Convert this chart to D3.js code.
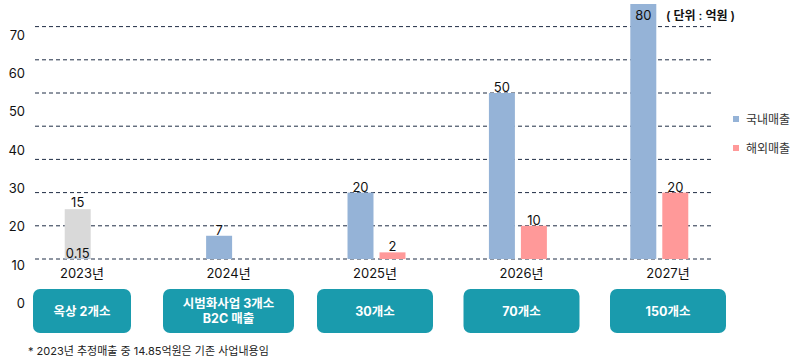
<!DOCTYPE html>
<html>
<head>
<meta charset="utf-8">
<script src="https://cdn.jsdelivr.net/npm/d3@7"></script>
<style>
  body { margin: 0; background: #fff; }
  text { font-family: "Inter", "Noto Sans CJK KR", sans-serif; }
</style>
</head>
<body>
<script>
// ---- data ----
var years = ["2023년", "2024년", "2025년", "2026년", "2027년"];
var seriesNames = ["국내매출", "해외매출"];
var domestic = [0.15, 7, 20, 50, 80];
var overseas = [null, null, 2, 10, 20];
var existing = [15, null, null, null, null]; // 기존 사업 (grey)
var yTicks = [0, 10, 20, 30, 40, 50, 60, 70];
var boxLabels = [["옥상 2개소"], ["시범화사업 3개소", "B2C 매출"], ["30개소"], ["70개소"], ["150개소"]];
var unitLabel = "( 단위 : 억원 )";
var footnote = "* 2023년 추정매출 중 14.85억원은 기존 사업내용임";

var colors = { "국내매출": "#95b3d7", "해외매출": "#ff9999", existing: "#d9d9d9" };
var boxWidths = [98, 131, 116, 116, 116];

var width = 804, height = 363;
var svg = d3.select("body").append("svg").attr("width", width).attr("height", height);

// scales
var y = d3.scaleLinear().domain([0, 70]).range([259, 26.6]);
var yLabel = d3.scaleLinear().domain([0, 70]).range([303, 34.5]);
var x0 = d3.scaleBand().domain(years).range([23, 730]).paddingInner(0.59).paddingOuter(0.295);
var x1 = d3.scaleBand().domain(seriesNames).range([0, x0.bandwidth()]).paddingInner(0.1875);
var xl = d3.scalePoint().domain(years).range([82, 668]);
var chartTop = 4;
function barTop(v) { return Math.max(y(v), chartTop); }

// grid lines
svg.append("g").selectAll("line").data(yTicks).enter().append("line")
    .attr("x1", 35).attr("x2", 713)
    .attr("y1", function (d) { return y(d); })
    .attr("y2", function (d) { return y(d); })
    .attr("stroke", "#1f2d45")
    .attr("stroke-width", 1)
    .attr("stroke-dasharray", "4,3");

// y labels (offset from grid, as in the original)
svg.append("g").selectAll("text").data(yTicks).enter().append("text")
    .attr("x", 25)
    .attr("y", function (d) { return yLabel(d); })
    .attr("text-anchor", "end")
    .attr("dominant-baseline", "central")
    .attr("font-size", 13)
    .attr("fill", "#111")
    .text(function (d) { return d; });

// bars
var rows = years.map(function (yr, i) {
    return { year: yr, existing: existing[i], values: [
        { key: seriesNames[0], v: domestic[i] },
        { key: seriesNames[1], v: overseas[i] }
    ] };
});

var groups = svg.append("g").selectAll("g").data(rows).enter().append("g")
    .attr("transform", function (d) { return "translate(" + x0(d.year) + ",0)"; });

// grey existing bar behind domestic
groups.filter(function (d) { return d.existing != null; }).append("rect")
    .attr("x", x1(seriesNames[0]))
    .attr("width", x1.bandwidth())
    .attr("y", function (d) { return barTop(d.existing); })
    .attr("height", function (d) { return y(0) - barTop(d.existing); })
    .attr("fill", colors.existing);

groups.filter(function (d) { return d.existing != null; }).append("text")
    .attr("x", x1(seriesNames[0]) + x1.bandwidth() / 2)
    .attr("y", function (d) { return barTop(d.existing) - 2; })
    .attr("text-anchor", "middle")
    .attr("font-size", 13)
    .attr("fill", "#111")
    .text(function (d) { return d.existing; });

var bars = groups.selectAll("g.bar")
    .data(function (d) { return d.values.filter(function (s) { return s.v != null; }); })
    .enter().append("g").attr("class", "bar");

bars.append("rect")
    .attr("x", function (d) { return x1(d.key); })
    .attr("width", x1.bandwidth())
    .attr("y", function (d) { return barTop(d.v); })
    .attr("height", function (d) { return y(0) - barTop(d.v); })
    .attr("fill", function (d) { return colors[d.key]; });

bars.append("text")
    .attr("x", function (d) { return x1(d.key) + x1.bandwidth() / 2; })
    .attr("y", function (d) { return Math.max(barTop(d.v) - 1, 20); })
    .attr("text-anchor", "middle")
    .attr("font-size", 13)
    .attr("fill", "#111")
    .text(function (d) { return d.v; });

// year labels
svg.append("g").selectAll("text").data(years).enter().append("text")
    .attr("x", function (d) { return xl(d); })
    .attr("y", 273)
    .attr("text-anchor", "middle")
    .attr("dominant-baseline", "central")
    .attr("font-size", 13)
    .attr("fill", "#111")
    .text(function (d) { return d; });

// boxes under the axis
var boxes = svg.append("g").selectAll("g").data(years).enter().append("g")
    .attr("transform", function (d) { return "translate(" + xl(d) + ",0)"; });

boxes.append("rect")
    .attr("x", function (d, i) { return -boxWidths[i] / 2; })
    .attr("y", 289)
    .attr("width", function (d, i) { return boxWidths[i]; })
    .attr("height", 44)
    .attr("rx", 7)
    .attr("fill", "#1a9bad");

boxes.append("text")
    .attr("text-anchor", "middle")
    .attr("font-size", 12.5)
    .attr("font-weight", "bold")
    .attr("fill", "#fff")
    .selectAll("tspan")
    .data(function (d, i) {
        var lines = boxLabels[i];
        return lines.map(function (t, k) { return { t: t, k: k, n: lines.length }; });
    })
    .enter().append("tspan")
    .attr("x", 0)
    .attr("y", function (d) { return 311 + (d.k - (d.n - 1) / 2) * 15; })
    .attr("dominant-baseline", "central")
    .text(function (d) { return d.t; });

// unit label
svg.append("text")
    .attr("x", 666).attr("y", 15)
    .attr("dominant-baseline", "central")
    .attr("font-size", 12)
    .attr("font-weight", 600)
    .attr("fill", "#111")
    .text(unitLabel);

// legend
var legend = svg.append("g").selectAll("g").data(seriesNames).enter().append("g")
    .attr("transform", function (d, i) { return "translate(733," + (119 + i * 29) + ")"; });
legend.append("rect")
    .attr("x", 0).attr("y", -3).attr("width", 6).attr("height", 6)
    .attr("fill", function (d) { return colors[d]; });
legend.append("text")
    .attr("x", 13).attr("y", 0)
    .attr("dominant-baseline", "central")
    .attr("font-size", 12)
    .attr("fill", "#333")
    .text(function (d) { return d; });

// footnote
svg.append("text")
    .attr("x", 28).attr("y", 351)
    .attr("dominant-baseline", "central")
    .attr("font-size", 11)
    .attr("fill", "#222")
    .text(footnote);
</script>
</body>
</html>
